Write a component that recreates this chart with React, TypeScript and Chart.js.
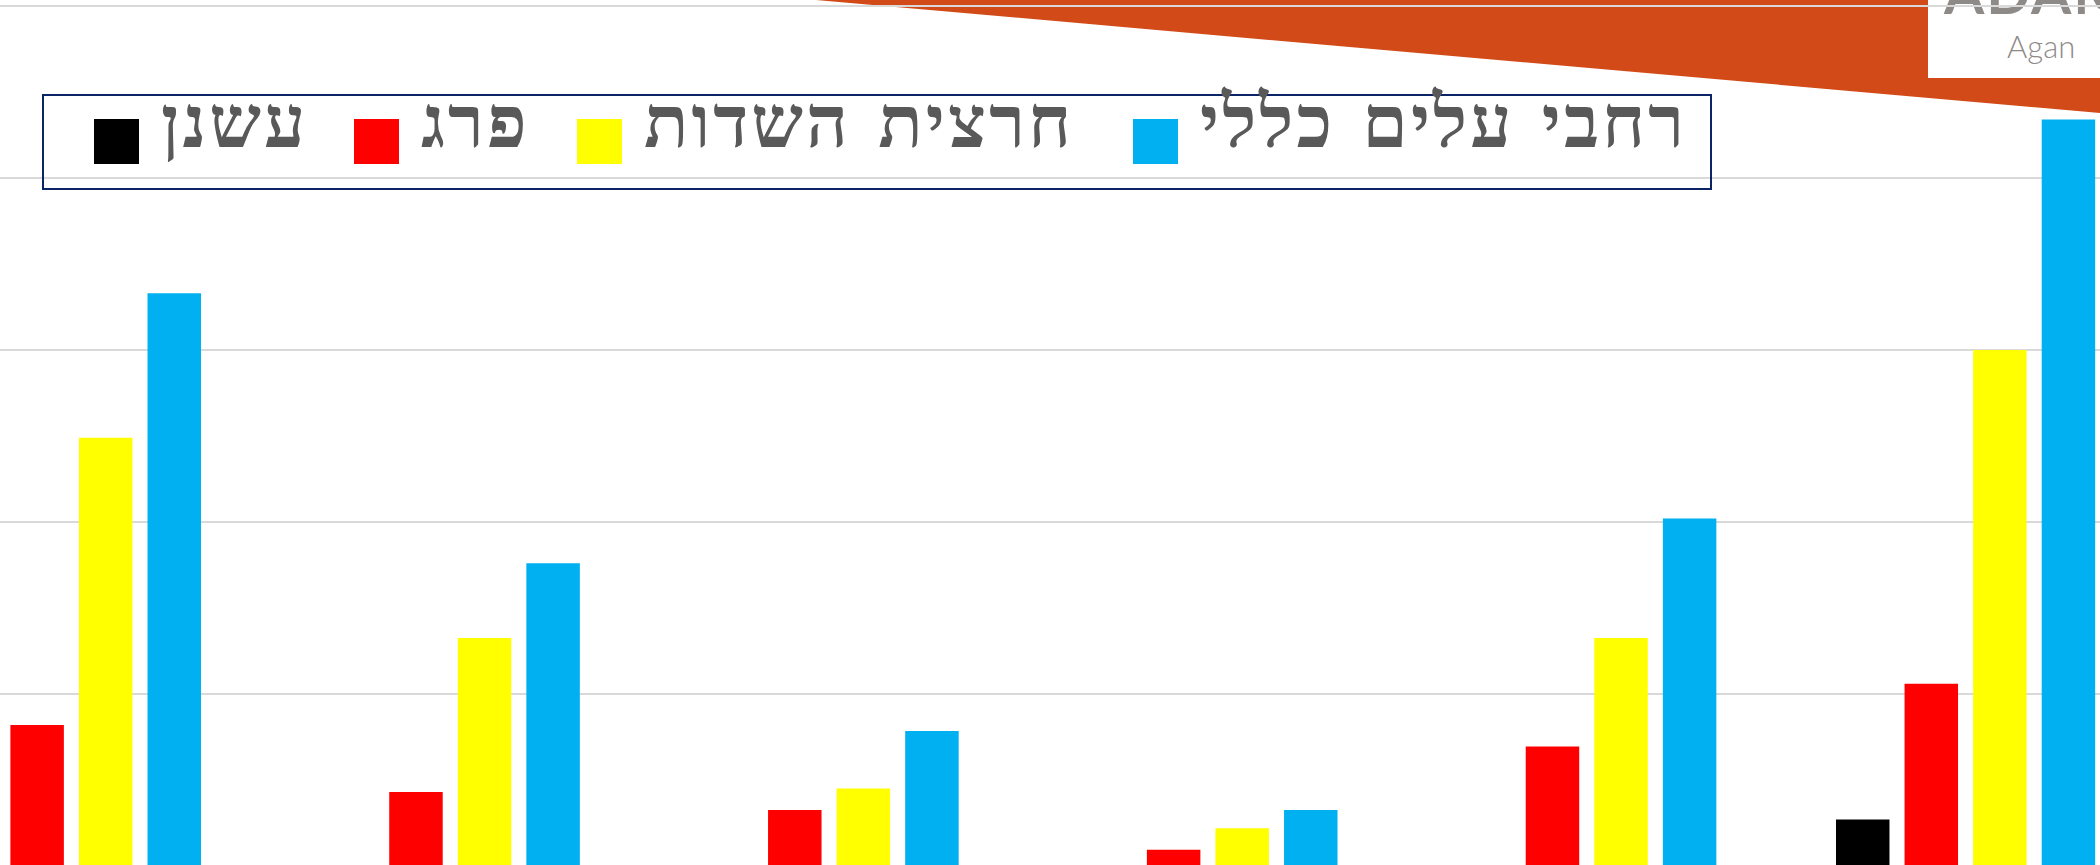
import React, { useEffect, useRef } from "react";
import { Chart, registerables } from "chart.js";

Chart.register(...registerables);

// ---- data ----
const categories = ["1", "2", "3", "4", "5", "6"];
const seriesNames = ["עשנן", "פרג", "חרצית השדות", "רחבי עלים כללי"];
const seriesColors = ["#000000", "#FF0000", "#FFFF00", "#00B0F0"];
const smokeValues = [0, 0, 0, 0, 0, 2.7];
const poppyValues = [8.2, 4.3, 3.25, 0.95, 6.95, 10.6];
const chrysanthemumValues = [24.9, 13.25, 4.5, 2.2, 13.25, 30.0];
const broadleafValues = [33.3, 17.6, 7.85, 3.25, 20.2, 43.4];
const yTicks = [0, 10, 20, 30, 40, 50];

const seriesValues = [smokeValues, poppyValues, chrysanthemumValues, broadleafValues];

// legend item left offsets inside the legend box (layout only)
const legendItemLeft = [50, 310, 533, 1089];

export default function App() {
  const canvasRef = useRef<HTMLCanvasElement | null>(null);

  useEffect(() => {
    const canvas = canvasRef.current;
    if (!canvas) return;
    const chart = new Chart(canvas, {
      type: "bar",
      data: {
        labels: categories,
        datasets: seriesNames.map((name, i) => ({
          label: name,
          data: seriesValues[i],
          backgroundColor: seriesColors[i],
          borderWidth: 0,
          categoryPercentage: 0.724,
          barPercentage: 0.78,
        })),
      },
      options: {
        animation: false,
        responsive: true,
        maintainAspectRatio: false,
        layout: { padding: { top: 6, bottom: 6, left: 0, right: 0 } },
        plugins: {
          legend: { display: false },
          tooltip: { enabled: false },
          title: { display: false },
        },
        scales: {
          x: {
            offset: true,
            grid: { display: false, drawTicks: false },
            ticks: { display: false },
            border: { display: true, color: "#EFDBA3", width: 2 },
          },
          y: {
            min: yTicks[0],
            max: yTicks[yTicks.length - 1],
            afterBuildTicks: (axis: any) => {
              axis.ticks = yTicks.map((v) => ({ value: v }));
            },
            grid: { color: "#D9D9D9", lineWidth: 2, drawTicks: false, tickLength: 0 },
            ticks: { display: false },
            border: { display: false },
          },
        },
      },
    });
    return () => chart.destroy();
  }, []);

  return (
    <div
      style={{
        position: "fixed",
        left: 0,
        top: 0,
        width: 2100,
        height: 865,
        overflow: "hidden",
        background: "#FFFFFF",
      }}
    >
      <svg
        width={2100}
        height={865}
        style={{ position: "absolute", left: 0, top: 0 }}
      >
        <polygon points="816,0 2100,0 2100,113" fill="#D24A18" />
        <rect x={1928} y={0} width={172} height={78} fill="#FFFFFF" />
      </svg>
      <div
        style={{
          position: "absolute",
          left: 1944,
          top: -37,
          fontFamily: "Lato, 'Open Sans', sans-serif",
          fontWeight: 700,
          fontSize: 58,
          color: "#8E8A88",
          lineHeight: "58px",
          letterSpacing: 2,
          whiteSpace: "nowrap",
        }}
      >
        ADAM
      </div>
      <div
        style={{
          position: "absolute",
          left: 2007,
          top: 28,
          fontFamily: "Lato, 'Open Sans', sans-serif",
          fontWeight: 300,
          fontSize: 31,
          color: "#8E8A88",
          lineHeight: "36px",
          whiteSpace: "nowrap",
        }}
      >
        Agan
      </div>
      <div
        style={{
          position: "absolute",
          left: -118,
          top: 0,
          width: 2273,
          height: 872,
        }}
      >
        <canvas ref={canvasRef} />
      </div>
      <div
        style={{
          position: "absolute",
          left: 42,
          top: 94,
          width: 1670,
          height: 96,
          boxSizing: "border-box",
          border: "2px solid #0B2466",
          direction: "ltr",
        }}
      >
        {seriesNames.map((name, i) => (
          <div
            key={name}
            style={{
              position: "absolute",
              left: legendItemLeft[i],
              top: 0,
              height: 92,
              whiteSpace: "nowrap",
            }}
          >
            <div
              style={{
                position: "absolute",
                left: 0,
                top: 23,
                width: 45,
                height: 45,
                background: seriesColors[i],
              }}
            />
            <span
              style={{
                position: "absolute",
                left: 67,
                top: -10,
                fontFamily: "'Liberation Serif', 'DejaVu Serif', serif",
                fontWeight: 700,
                fontSize: 73,
                letterSpacing: 3,
                wordSpacing: 6,
                color: "#595959",
                lineHeight: "73px",
                whiteSpace: "nowrap",
              }}
            >
              {name}
            </span>
          </div>
        ))}
      </div>
    </div>
  );
}
